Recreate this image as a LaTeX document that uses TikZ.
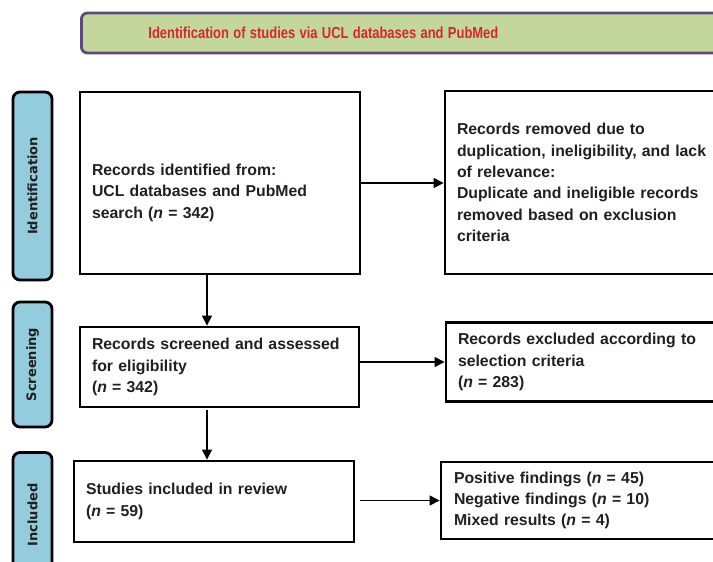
\documentclass[tikz,border=0pt]{standalone}
\usepackage{fontspec}
\setmainfont{Liberation Sans}
\newfontfamily\stagefont{DejaVu Sans}
\usepackage{tikz}
\usetikzlibrary{arrows.meta,positioning,calc}

\definecolor{stagefill}{HTML}{93CDDD}
\definecolor{headfill}{HTML}{C4D79B}
\definecolor{headline}{HTML}{604A7B}
\definecolor{headtext}{HTML}{D7262E}
\definecolor{boxtext}{HTML}{231F20}

\tikzset{
	flowbox/.style={draw=black, line width=2.8pt, fill=white, align=left, inner xsep=12pt,
		text=boxtext, font=\fontsize{15.8}{21.3}\selectfont\bfseries},
	stage/.style={draw=black, line width=2.8pt, rounded corners=7pt, fill=stagefill,
		minimum width=39pt, text=boxtext, font=\stagefont\fontsize{13}{15}\selectfont\bfseries},
	headbox/.style={draw=headline, line width=2.8pt, rounded corners=6pt, fill=headfill,
		minimum height=40pt, text width=560pt, inner xsep=67pt, align=left,
		text=headtext, font=\fontsize{16}{18}\selectfont\bfseries},
	flow/.style={-{Triangle[length=10pt,width=10pt]}, line width=1.2pt}
}

\begin{document}
\begin{tikzpicture}[x=1pt,y=-1pt]
	\useasboundingbox (0,0) rectangle (713,562);
	% header
	\node[headbox, anchor=west] (head) at (80,33) {\scalebox{0.81}[1]{Identification of studies via UCL databases and PubMed}};
	% stage labels
	\node[stage, minimum height=188pt] (sid) at (32.5,186) {\rotatebox{90}{Identification}};
	\node[stage, minimum height=125pt] (sscr) at (32.5,364.5) {\rotatebox{90}{Screening}};
	\node[stage, minimum height=125pt] (sinc) at (32.5,515) {\rotatebox{90}{Included}};
	% main column
	\node[flowbox, text width=256pt, minimum height=182pt] (ident) at (220,183)
		{\rule{0pt}{31pt}Records identified from:\\UCL databases and PubMed\\search (\textit{n} = 342)};
	\node[flowbox, text width=255pt, minimum height=80pt] (screen) at (219.5,367)
		{Records screened and assessed\\for eligibility\\(\textit{n} = 342)};
	\node[flowbox, text width=256pt, minimum height=81pt] (incl) at (214,501.5)
		{Studies included in review\\(\textit{n} = 59)};
	% side column
	\node[flowbox, text width=256pt, minimum height=183pt] (removed) at (585,182.5)
		{Records removed due to\\duplication, ineligibility, and lack\\of relevance:\\Duplicate and ineligible records\\removed based on exclusion\\criteria};
	\node[flowbox, text width=256pt, minimum height=79pt] (excl) at (586,362)
		{Records excluded according to\\selection criteria\\(\textit{n} = 283)};
	\node[flowbox, text width=256pt, minimum height=77pt, inner xsep=13pt] (find) at (582,500.5)
		{Positive findings (\textit{n} = 45)\\Negative findings (\textit{n} = 10)\\Mixed results (\textit{n} = 4)};
	% arrows
	\draw[flow] ([xshift=-13pt]ident.south) -- ([xshift=-13pt]ident.south |- screen.north);
	\draw[flow] ([xshift=-12.5pt,yshift=-2pt]screen.south) -- ([xshift=-12.5pt]screen.south |- incl.north);
	\draw[flow] (ident.east) -- (ident.east -| removed.west);
	\draw[flow] (screen.east |- excl.west) -- (excl.west);
	\draw[flow] ([xshift=5pt]incl.east |- find.west) -- (find.west);
\end{tikzpicture}
\end{document}
